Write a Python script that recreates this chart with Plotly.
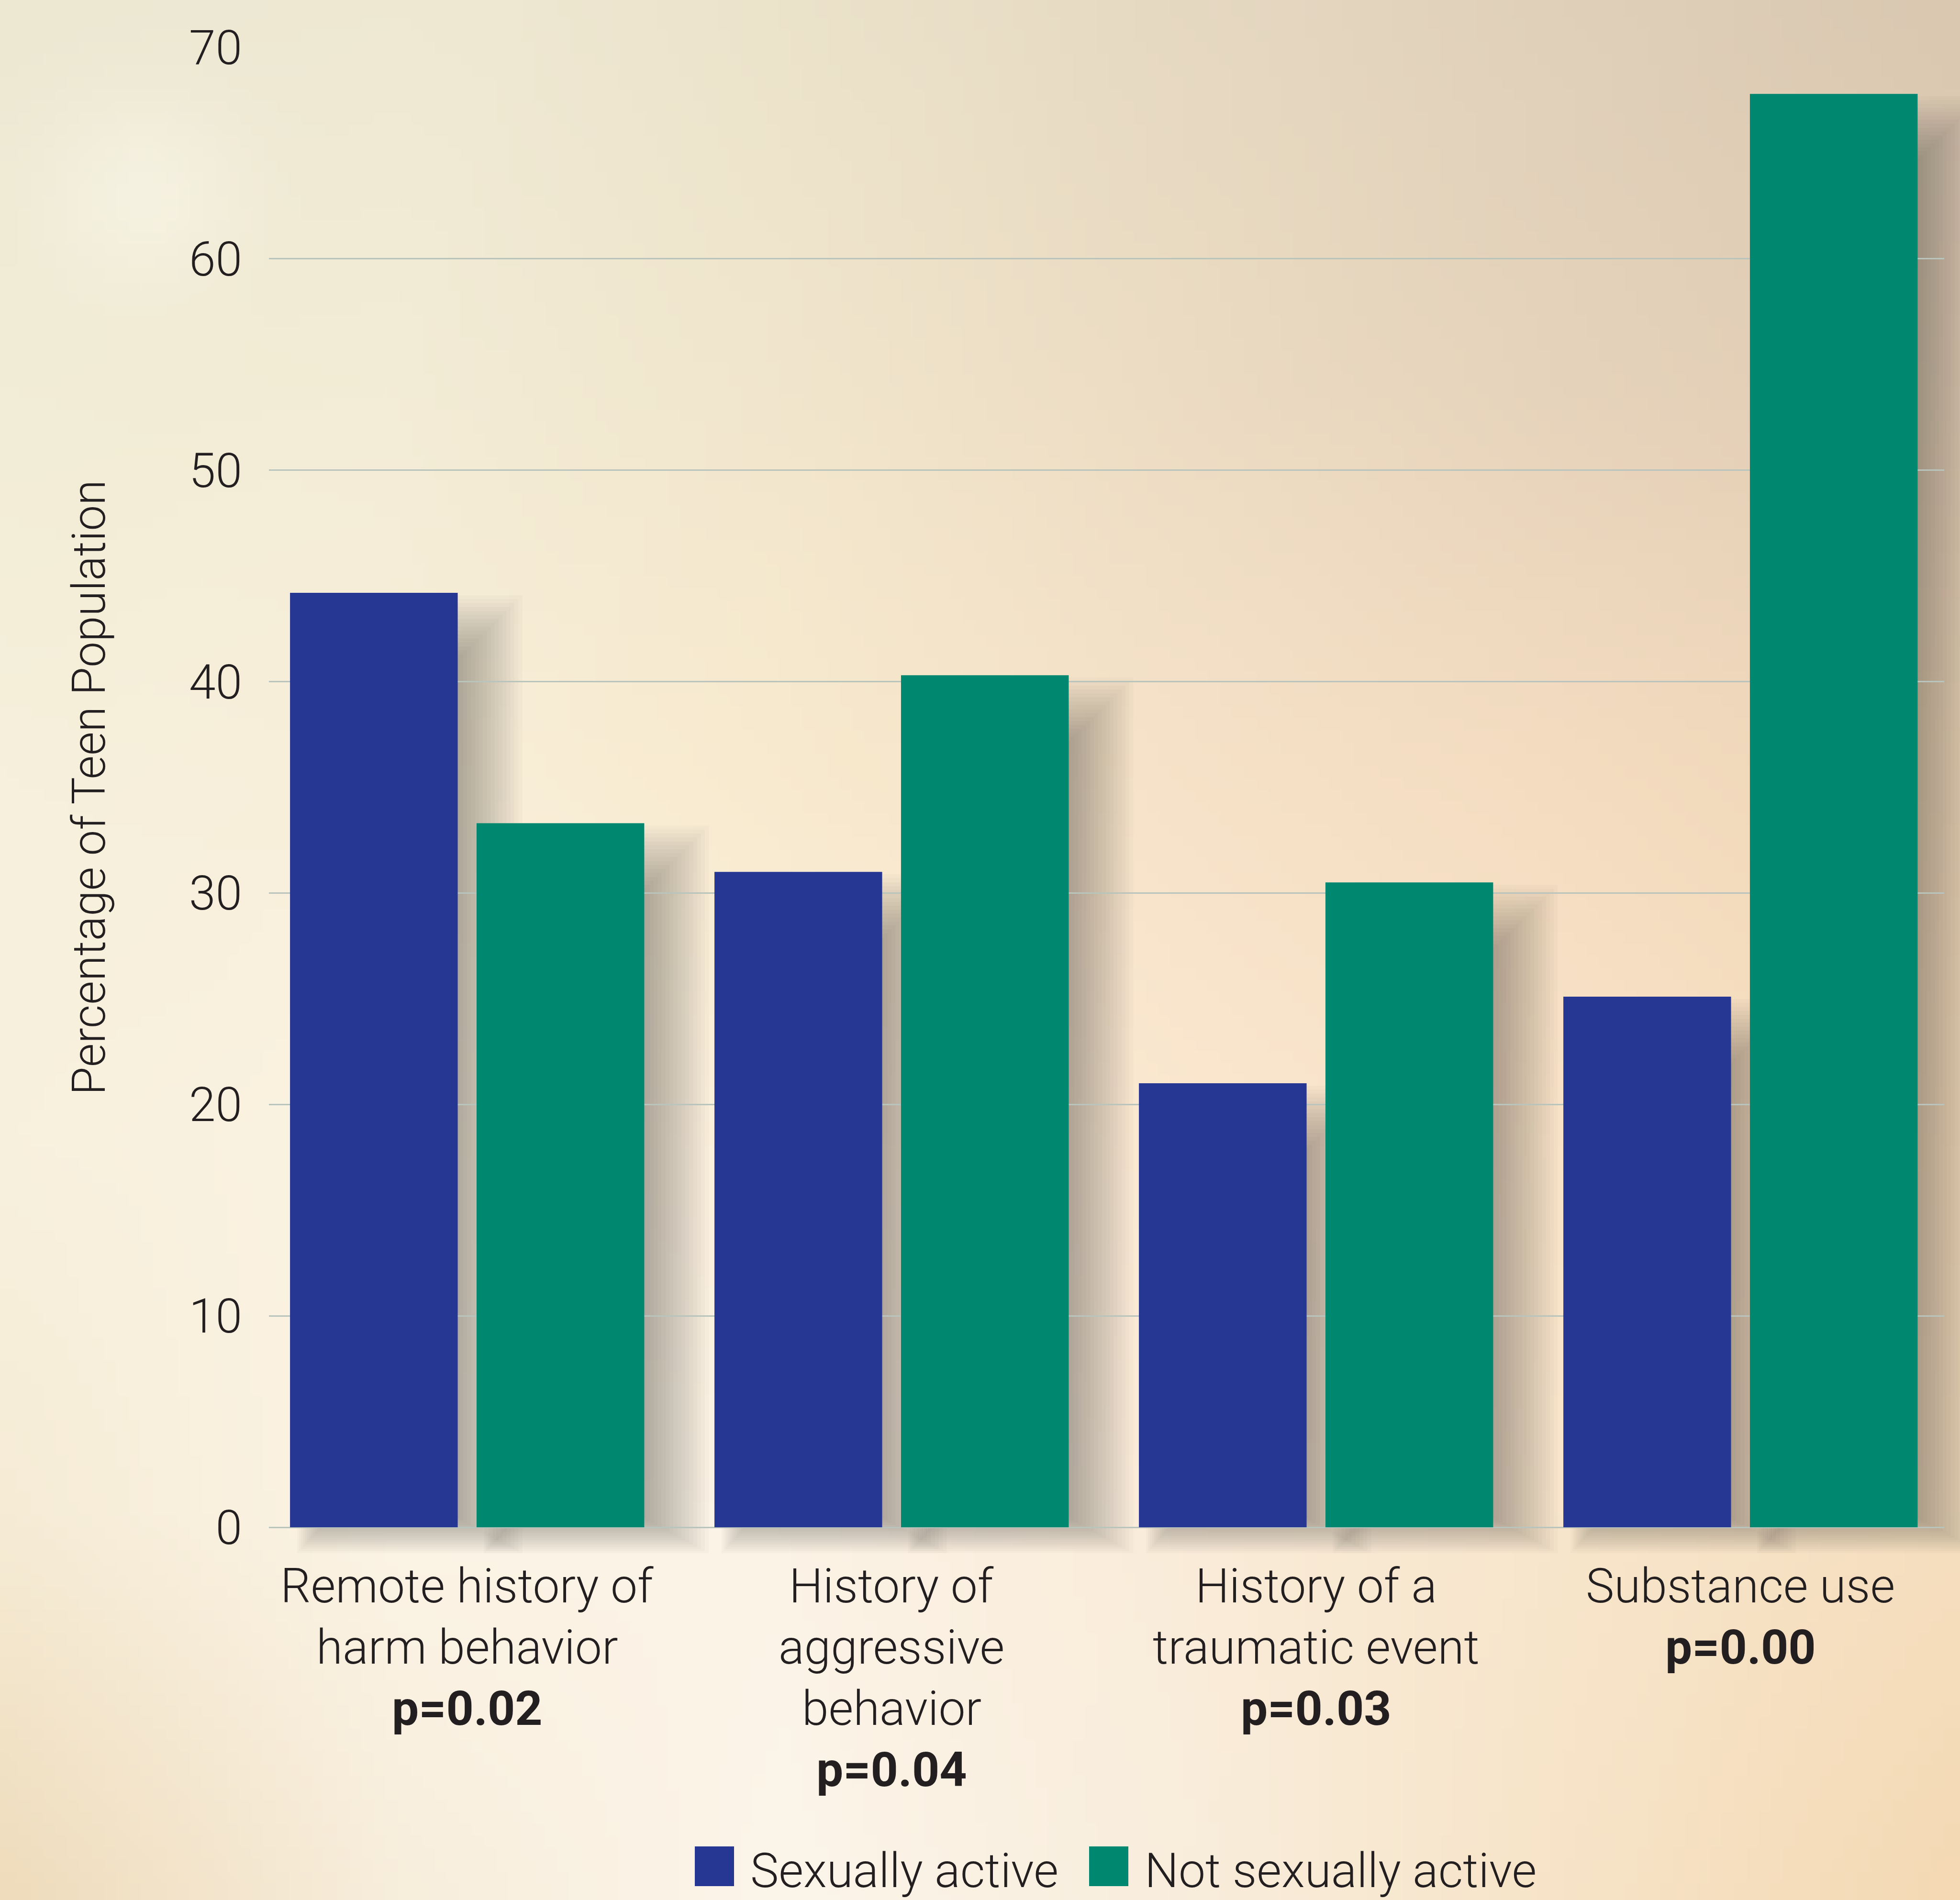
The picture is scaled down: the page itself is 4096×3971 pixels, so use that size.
import base64
import struct
import zlib

import numpy as np
import plotly.graph_objects as go

# ---------------- data ----------------
categories = ["Remote history of harm behavior", "History of aggressive behavior",
              "History of a traumatic event", "Substance use"]
category_lines = [["Remote history of", "harm behavior"],
                  ["History of", "aggressive", "behavior"],
                  ["History of a", "traumatic event"],
                  ["Substance use"]]
p_values = ["p=0.02", "p=0.04", "p=0.03", "p=0.00"]
series_names = ["Sexually active", "Not sexually active"]
sexually_active = [44.2, 31.0, 21.0, 25.1]
not_sexually_active = [33.3, 40.3, 30.5, 67.8]
y_ticks = [0, 10, 20, 30, 40, 50, 60, 70]
y_title = "Percentage of Teen Population"

# ---------------- layout constants ----------------
W, H = 4096, 3971
ML, MR, MT, MB = 562, 33, 99, 779
PW, PH = W - ML - MR, H - MT - MB
XMIN, XMAX = -0.467, 3.480
YMAX = 70
BARGAP, BARGROUPGAP = 0.121, 0.101
COLORS = ["#263693", "#008770"]
TEXT = "#231f20"
FONT = "Roboto, Liberation Sans, sans-serif"
FS = 100


def px_x(xd):
    return ML + (xd - XMIN) / (XMAX - XMIN) * PW


def px_y(yd):
    return MT + PH - yd / YMAX * PH


def paper_x(px):
    return (px - ML) / PW


def paper_y(py):
    return (MT + PH - py) / PH


def font(size=FS, weight=300):
    return dict(family=FONT, size=size, color=TEXT, weight=weight)


# ---------------- background gradient image ----------------
key = np.array([
    ["#ece8d2", "#efe9d4", "#ece3cb", "#e6d9c2", "#e0d0ba", "#dac8b1"],
    ["#f2edd6", "#f3ecd6", "#f1e6cd", "#ecdcc3", "#e6d3bb", "#e2cdb4"],
    ["#f6f0dc", "#f9efda", "#f8eace", "#f6e2c8", "#f4dcc0", "#efd6b8"],
    ["#f8f1de", "#fcf3e2", "#fbefdc", "#fbe8d0", "#f9e3c8", "#f6dcbc"],
    ["#f6ecd6", "#fcf4e6", "#fcf3e6", "#faecd9", "#f8e6cc", "#f6dfc0"],
    ["#efdcbc", "#f8eedc", "#fcf5ea", "#f9eedd", "#f7e4c8", "#f4d9b4"],
])
kc = np.array([[[int(c[i:i + 2], 16) for i in (1, 3, 5)] for c in row] for row in key], dtype=float)
N = 160
g = np.linspace(0, kc.shape[0] - 1, N)
i0 = np.clip(np.floor(g).astype(int), 0, kc.shape[0] - 2)
f = (g - i0)[:, None]
rows = kc[i0] * (1 - f[:, :, None]) + kc[i0 + 1] * f[:, :, None]
img = rows[:, i0] * (1 - f[None, :, :]) + rows[:, i0 + 1] * f[None, :, :]
yy, xx = np.mgrid[0:N, 0:N] / (N - 1)
spot = np.exp(-(((xx - 0.07) / 0.05) ** 2 + ((yy - 0.10) / 0.05) ** 2))[:, :, None]
img = img * (1 - 0.6 * spot) + np.array([250, 247, 234]) * 0.6 * spot
img = np.clip(img, 0, 255).astype(np.uint8)


def png_data_uri(rgb):
    h, w, _ = rgb.shape
    raw = b"".join(b"\x00" + rgb[r].tobytes() for r in range(h))

    def chunk(tag, data):
        c = tag + data
        return struct.pack(">I", len(data)) + c + struct.pack(">I", zlib.crc32(c) & 0xFFFFFFFF)

    png = (b"\x89PNG\r\n\x1a\n"
           + chunk(b"IHDR", struct.pack(">IIBBBBB", w, h, 8, 2, 0, 0, 0))
           + chunk(b"IDAT", zlib.compress(raw, 9))
           + chunk(b"IEND", b""))
    return "data:image/png;base64," + base64.b64encode(png).decode()


# ---------------- figure ----------------
fig = go.Figure()
xs = list(range(len(categories)))
for name, vals, col in zip(series_names, [sexually_active, not_sexually_active], COLORS):
    fig.add_trace(go.Bar(x=xs, y=vals, name=name, marker=dict(color=col, line=dict(width=0)),
                         showlegend=False, hoverinfo="skip"))

shapes = []
# soft drop shadows derived from each bar's geometry (stacked translucent layers)
unit = PW / (XMAX - XMIN)
slot = (1 - BARGAP) / 2
half_w = slot * (1 - BARGROUPGAP) / 2 * unit
DX, DY_TOP, DY_BOT = 55, 85, 10
spreads = np.linspace(-60, 80, 18)
for t, vals in enumerate([sexually_active, not_sexually_active]):
    for i, v in enumerate(vals):
        cx = px_x(i + (t - 0.5) * slot)
        top, base = px_y(v), px_y(0)
        for d in spreads:
            x0, x1 = cx - half_w + DX - 0.5 * d, cx + half_w + DX + d
            y0, y1 = top + DY_TOP - d, base + DY_BOT + 0.55 * d
            if x1 <= x0 or y1 <= y0:
                continue
            shapes.append(dict(type="rect", xref="paper", yref="paper", layer="below",
                               x0=paper_x(x0), x1=paper_x(x1), y0=paper_y(y1), y1=paper_y(y0),
                               fillcolor="rgba(60,48,34,0.025)", line=dict(width=0)))

# legend swatches (drawn manually so the swatches can be as large as in the original)
LEG_BASE = 3944
leg_x = [1452, 2276]
leg_text_x = [1566, 2390]
for lx, col in zip(leg_x, COLORS):
    shapes.append(dict(type="rect", xref="paper", yref="paper", layer="above",
                       x0=paper_x(lx), x1=paper_x(lx + 82),
                       y0=paper_y(LEG_BASE - 2), y1=paper_y(LEG_BASE - 85),
                       fillcolor=col, line=dict(width=0)))

annotations = []
BASE0, LSTEP = 3349, 128
for i, (lines, p) in enumerate(zip(category_lines, p_values)):
    for k, txt in enumerate(lines + [p]):
        bold = k == len(lines)
        baseline = BASE0 + k * LSTEP
        annotations.append(dict(x=i, xref="x", y=paper_y(baseline - 0.3465 * FS), yref="paper",
                                text=txt, showarrow=False, xanchor="center", yanchor="middle",
                                font=font(FS, 700 if bold else 300)))
for tx, name in zip(leg_text_x, series_names):
    annotations.append(dict(x=paper_x(tx), xref="paper", y=paper_y(LEG_BASE - 0.3465 * FS),
                            yref="paper", text=name, showarrow=False, xanchor="left",
                            yanchor="middle", font=font(FS, 300)))
TFS = 96
annotations.append(dict(x=paper_x(218.5 - 0.3465 * TFS), xref="paper", y=0.5, yref="paper",
                        text=y_title, textangle=-90, showarrow=False, xanchor="center",
                        yanchor="middle", font=font(TFS, 300)))

fig.update_layout(
    width=W, height=H,
    margin=dict(l=ML, r=MR, t=MT, b=MB, pad=0),
    paper_bgcolor="#f7ecd6", plot_bgcolor="rgba(0,0,0,0)",
    barmode="group", bargap=BARGAP, bargroupgap=BARGROUPGAP,
    showlegend=False,
    images=[dict(source=png_data_uri(img), xref="paper", yref="paper",
                 x=paper_x(0), y=paper_y(0), sizex=W / PW, sizey=H / PH,
                 xanchor="left", yanchor="top", sizing="stretch", layer="below")],
    shapes=shapes,
    annotations=annotations,
    xaxis=dict(range=[XMIN, XMAX], showticklabels=False, showgrid=False, zeroline=False,
               showline=False, ticks=""),
    yaxis=dict(range=[0, YMAX], tickvals=y_ticks, ticktext=[str(v) for v in y_ticks],
               showgrid=True, gridcolor="#b8c4bc", gridwidth=2.5,
               zeroline=True, zerolinecolor="#b8c4bc", zerolinewidth=2.5,
               showline=False, ticks="", ticklabelstandoff=55,
               tickfont=font(FS, 300)),
)

fig.write_html("out.html")
